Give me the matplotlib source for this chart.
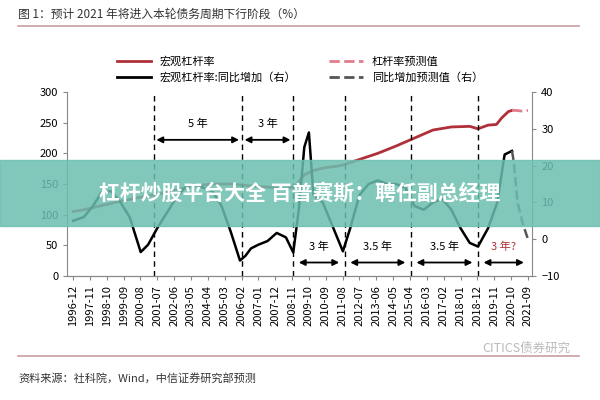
import matplotlib
matplotlib.use('Agg')
from matplotlib import pyplot as plt

plt.rcParams['font.family'] = ['Noto Sans CJK SC', 'DejaVu Sans']

# leverage ratio (left axis), fractional year -> %
lev_t = [1996.92, 1997.5, 1998.5, 1999.5, 2000.5, 2001.5, 2002.5, 2003.5, 2004.5,
         2005.5, 2006.5, 2007.5, 2008.5, 2009.0, 2009.5, 2010.0, 2010.5, 2011.5,
         2012.5, 2013.5, 2014.5, 2015.5, 2016.5, 2017.5, 2018.5, 2018.95, 2019.5,
         2019.95, 2020.25, 2020.6, 2020.8]
lev_v = [105, 108, 115, 122, 128, 133, 140, 147, 150, 150, 147, 145, 142, 146, 165,
         172, 176, 180, 190, 200, 212, 225, 238, 243, 244, 240, 246, 247, 258, 268, 270]
lev_fc_t = [2020.8, 2021.0, 2021.3, 2021.67]
lev_fc_v = [270, 270, 269, 270]

# YoY change (right axis)
yoy_t = [1996.92, 1997.5, 1998.0, 1998.5, 1999.0, 1999.5, 2000.0, 2000.6, 2001.0,
         2001.5, 2002.0, 2002.5, 2003.0, 2003.5, 2004.0, 2004.5, 2005.0, 2005.5,
         2006.0, 2006.3, 2006.6, 2007.0, 2007.5, 2008.0, 2008.5, 2008.9, 2009.2,
         2009.5, 2009.75, 2010.0, 2010.5, 2011.0, 2011.6, 2012.0, 2012.5, 2013.0,
         2013.5, 2014.0, 2014.5, 2015.0, 2015.5, 2016.0, 2016.5, 2017.0, 2017.5,
         2018.0, 2018.5, 2018.95, 2019.5, 2020.0, 2020.4, 2020.8]
yoy_v = [5, 6, 9, 13, 13, 10, 6, -3.5, -1.5, 3, 7, 11, 14, 15, 14, 13, 9, 2,
         -5.8, -4.5, -2.5, -1.5, -0.5, 1.7, 0.5, -3.6, 8, 25, 29, 12, 10, 4, -3.3,
         3, 12, 15, 16, 15, 15, 14, 9, 8, 10, 11, 8, 3, -1, -2, 3, 10, 23, 24]
yoy_fc_t = [2020.8, 2020.9, 2021.1, 2021.4, 2021.67]
yoy_fc_v = [24, 21, 10, 4, 0]

tick_labels = ['1996-12', '1997-11', '1998-10', '1999-09', '2000-08', '2001-07',
               '2002-06', '2003-05', '2004-04', '2005-03', '2006-02', '2007-01',
               '2007-12', '2008-11', '2009-10', '2010-09', '2011-08', '2012-07',
               '2013-06', '2014-05', '2015-04', '2016-03', '2017-02', '2018-01',
               '2018-12', '2019-11', '2020-10', '2021-09']
cycle_lines = [2001.3, 2006.1, 2008.9, 2011.7, 2015.3, 2018.95]
top_spans = [(2001.3, 2006.1, '5 年'), (2006.1, 2008.9, '3 年')]
bottom_spans = [(2008.9, 2011.7, '3 年', 'black'), (2011.7, 2015.3, '3.5 年', 'black'),
                (2015.3, 2018.95, '3.5 年', 'black'), (2018.95, 2021.75, '3 年?', '#b0303a')]

RED = '#b0303a'
PINK = '#e07f8a'

fig = plt.figure(figsize=(6, 4), dpi=100)
ax = fig.add_axes([0.112, 0.31, 0.775, 0.46])
ax2 = ax.twinx()

ax.plot(lev_t, lev_v, color=RED, lw=2)
ax.plot(lev_fc_t, lev_fc_v, color=PINK, lw=2, ls='--')
ax2.plot(yoy_t, yoy_v, color='black', lw=1.8)
ax2.plot(yoy_fc_t, yoy_fc_v, color='#555555', lw=1.8, ls='--')

for x in cycle_lines:
    ax.axvline(x, color='black', lw=1, ls=(0, (4, 3)))
for a, b, txt in top_spans:
    ax.annotate('', xy=(a, 222), xytext=(b, 222),
                arrowprops=dict(arrowstyle='<|-|>', color='black', lw=1.3, mutation_scale=9))
    ax.text((a + b) / 2, 248, txt, ha='center', va='center', fontsize=8)
for a, b, txt, c in bottom_spans:
    ax.annotate('', xy=(a + 0.15, 22), xytext=(b - 0.15, 22),
                arrowprops=dict(arrowstyle='<|-|>', color='black', lw=1.3, mutation_scale=9))
    ax.text((a + b) / 2, 47, txt, ha='center', va='center', fontsize=8, color=c)

first = 1996.92
ticks = [first + i * 11 / 12 for i in range(len(tick_labels))]
ax.set_xticks(ticks)
ax.set_xticklabels(tick_labels, rotation=90, fontsize=7.5)
ax.set_xlim(1996.6, 2021.9)
ax.set_ylim(0, 300)
ax.set_yticks(range(0, 301, 50))
ax2.set_ylim(-10, 40)
ax2.set_yticks(range(-10, 41, 10))
for a in (ax, ax2):
    a.tick_params(labelsize=8, length=3, color='#888888')
    for s in ('top',):
        a.spines[s].set_visible(False)
    for s in a.spines.values():
        s.set_color('#888888')
ax.spines['right'].set_visible(False)
ax2.spines['left'].set_visible(False)

# legend
fig.legend(handles=[
    plt.Line2D([], [], color=RED, lw=2, label='宏观杠杆率'),
    plt.Line2D([], [], color='black', lw=2, label='宏观杠杆率:同比增加（右）'),
    plt.Line2D([], [], color=PINK, lw=2, ls='--', label='杠杆率预测值'),
    plt.Line2D([], [], color='#555555', lw=2, ls='--', label='同比增加预测值（右）')],
    ncol=2, loc='upper center', bbox_to_anchor=(0.5, 0.885), frameon=False,
    fontsize=8, columnspacing=3, handlelength=3)

fig.text(0.03, 0.955, '图 1：预计 2021 年将进入本轮债务周期下行阶段（%）', fontsize=8.5, color='#333333')
fig.add_artist(plt.Line2D([0.03, 0.965], [0.935, 0.935], color='#c9a0a0', lw=1.2))
fig.add_artist(plt.Line2D([0.03, 0.965], [0.11, 0.11], color='#c9a0a0', lw=1.2))
fig.text(0.03, 0.045, '资料来源：社科院，Wind，中信证券研究部预测', fontsize=8, color='#333333')
fig.text(0.95, 0.12, 'CITICS债券研究', fontsize=9, color='#bbbbbb', ha='right')

# overlay banner seen on the picture
fig.patches.append(plt.Rectangle((0, 0.435), 1, 0.165, transform=fig.transFigure,
                                 color='#6bbfb0', alpha=0.85, zorder=5))
fig.text(0.5, 0.517, '杠杆炒股平台大全 百普赛斯：聘任副总经理', ha='center', va='center',
         fontsize=15, color='white', weight='bold', zorder=6)

fig.savefig('out.png')
